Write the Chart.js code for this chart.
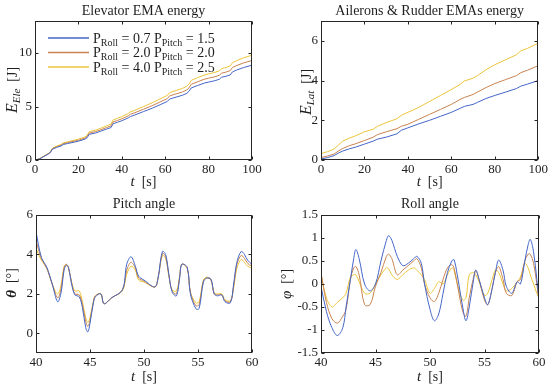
<!DOCTYPE html>
<html><head><meta charset="utf-8">
<script src="https://cdn.jsdelivr.net/npm/chart.js@4.4.0/dist/chart.umd.min.js"></script>
<style>
html,body{margin:0;padding:0;background:#fff;}
#wrap{position:relative;width:550px;height:387px;background:#fff;}
#wrap canvas{position:absolute;left:0;top:0;}
</style></head><body>
<div id="wrap">
<canvas id="c1" width="550" height="387"></canvas>
<canvas id="c2" width="550" height="387"></canvas>
<canvas id="c3" width="550" height="387"></canvas>
<canvas id="c4" width="550" height="387"></canvas>
</div>
<script>
// ---------- DATA ----------
const seriesNames = ['P_Roll = 0.7 P_Pitch = 1.5', 'P_Roll = 2.0 P_Pitch = 2.0', 'P_Roll = 4.0 P_Pitch = 2.5'];
const rollGains = ['0.7', '2.0', '4.0'];
const pitchGains = ['1.5', '2.0', '2.5'];

// Elevator EMA energy [J] vs t [s]
const eleTime = [0,2,4,6,7,8,10,12,13,15,18,20,23,24,25,28,30,33,35,36,38,40,43,44,46,50,54,58,61,62,65,68,70,71,72,75,78,80,83,85,86,88,90,91,93,96,100];
const eleA = [0,0.09,0.32,0.54,0.68,1.0,1.18,1.31,1.45,1.54,1.67,1.76,1.95,2.08,2.4,2.53,2.67,2.9,3.03,3.39,3.53,3.67,3.94,4.07,4.21,4.53,4.84,5.2,5.48,5.7,5.88,6.06,6.24,6.43,6.74,6.97,7.19,7.29,7.42,7.56,7.74,7.83,7.96,8.24,8.42,8.64,8.87];
const eleB = [0,0.1,0.33,0.57,0.71,1.05,1.24,1.38,1.52,1.62,1.76,1.85,2.04,2.19,2.52,2.66,2.8,3.04,3.18,3.56,3.7,3.85,4.13,4.28,4.42,4.75,5.08,5.46,5.75,5.99,6.18,6.37,6.56,6.75,7.08,7.32,7.55,7.65,7.79,7.93,8.12,8.22,8.36,8.65,8.84,9.07,9.31];
const eleC = [0,0.1,0.35,0.6,0.75,1.1,1.3,1.45,1.6,1.7,1.85,1.95,2.15,2.3,2.65,2.8,2.95,3.2,3.35,3.75,3.9,4.05,4.35,4.5,4.65,5.0,5.35,5.75,6.05,6.3,6.5,6.7,6.9,7.1,7.45,7.7,7.95,8.05,8.2,8.35,8.55,8.65,8.8,9.1,9.3,9.55,9.8];

// Ailerons & Rudder EMAs energy [J] vs t [s]
const latTime = [0,3,6,8,10,13,16,20,24,26,30,35,37,40,45,50,55,60,64,66,70,72,76,80,85,90,92,95,100];
const latA = [0.05,0.12,0.22,0.35,0.45,0.56,0.65,0.8,0.95,1.05,1.15,1.32,1.5,1.62,1.82,2.0,2.2,2.4,2.6,2.7,2.8,2.9,3.1,3.25,3.42,3.6,3.72,3.82,4.0];
const latB = [0.12,0.2,0.3,0.45,0.58,0.72,0.82,0.98,1.15,1.28,1.42,1.58,1.7,1.8,2.05,2.3,2.55,2.8,3.05,3.15,3.3,3.42,3.65,3.85,4.05,4.25,4.4,4.52,4.75];
const latC = [0.32,0.42,0.55,0.75,0.95,1.1,1.22,1.42,1.55,1.7,1.88,2.08,2.25,2.4,2.65,2.95,3.25,3.55,3.8,3.98,4.12,4.25,4.55,4.8,5.05,5.3,5.5,5.62,5.88];

// Pitch angle [deg] vs t [s]
const pitchTime = [40,40.5,41,41.5,42,42.3,42.6,42.8,43,43.3,43.6,44,44.3,44.6,44.8,45,45.3,45.5,46,46.3,47,48,48.4,48.8,49.2,49.5,50,51,51.3,51.7,52,52.3,52.6,53,53.3,53.5,54,54.3,54.8,55.1,55.5,55.8,56.2,56.5,56.8,57.2,57.5,58,58.3,58.6,59,59.3,59.6,60];
const pitchA = [5.15,3.85,3.35,2.5,1.6,2.0,3.2,3.45,3.35,2.5,1.95,1.85,1.3,0.3,0.07,0.5,1.5,1.85,2.0,1.5,1.8,2.2,3.5,3.88,3.4,2.9,2.7,2.35,2.8,4.15,4.0,3.0,2.1,1.9,2.8,3.5,3.35,2.0,1.25,1.25,2.6,2.8,2.75,2.0,1.9,1.95,1.6,1.55,2.5,3.6,4.15,4.0,3.7,3.5];
const pitchB = [4.7,3.8,3.3,2.5,1.8,2.2,3.3,3.5,3.35,2.55,2.0,1.95,1.45,0.6,0.35,0.65,1.55,1.9,2.0,1.5,1.8,2.2,3.2,3.6,3.3,2.8,2.65,2.35,2.8,4.05,3.9,2.95,2.15,2.0,2.85,3.5,3.3,2.05,1.4,1.45,2.65,2.8,2.7,2.0,1.95,1.95,1.65,1.6,2.4,3.5,3.95,3.8,3.55,3.4];
const pitchC = [4.3,3.7,3.3,2.5,2.0,2.4,3.4,3.5,3.3,2.6,2.15,2.15,1.6,0.8,0.55,0.8,1.6,1.9,2.0,1.5,1.8,2.15,3.0,3.4,3.2,2.7,2.6,2.35,2.8,3.95,3.8,2.9,2.2,2.15,2.9,3.5,3.3,2.1,1.55,1.6,2.7,2.85,2.7,2.05,2.0,2.0,1.7,1.65,2.3,3.3,3.75,3.6,3.4,3.3];

// Roll angle [deg] vs t [s]
const rollTime = [40,40.5,41,41.5,42,42.3,42.7,43,43.2,43.5,44,44.5,45,45.5,46,46.2,46.5,47,47.5,48,48.5,48.8,49.2,49.5,50,50.4,50.8,51.2,51.6,52,52.2,52.5,53,53.3,53.6,54,54.2,54.5,55,55.3,55.7,56,56.3,56.7,57,57.5,58,58.3,58.7,59,59.2,59.5,59.8,60];
const rollA = [-0.05,-0.6,-0.95,-1.12,-0.95,-0.5,0.1,0.55,0.75,0.55,0.0,-0.15,0.0,0.5,0.95,1.05,0.95,0.6,0.4,0.45,0.55,0.6,0.45,0.0,-0.55,-0.8,-0.65,-0.2,0.25,0.5,0.53,0.2,-0.5,-0.8,-0.5,0.1,0.3,0.1,-0.3,-0.45,-0.1,0.25,0.52,0.3,-0.05,-0.2,0.05,0.0,0.5,0.85,0.97,0.7,0.1,-0.35];
const rollB = [0.25,-0.4,-0.75,-0.85,-0.7,-0.55,0.1,0.35,0.38,0.2,-0.45,-0.45,-0.05,0.25,0.6,0.65,0.55,0.2,0.3,0.4,0.5,0.55,0.35,0.0,-0.3,-0.38,-0.2,0.1,0.35,0.42,0.35,0.0,-0.6,-0.7,-0.3,0.15,0.3,0.1,-0.35,-0.45,-0.1,0.25,0.38,0.1,-0.2,-0.25,0.05,0.1,0.5,0.65,0.65,0.45,0.0,-0.4];
const rollC = [0.2,-0.3,-0.5,-0.4,-0.3,-0.2,0.15,0.2,0.2,0.05,-0.2,-0.2,0.0,0.2,0.35,0.33,0.2,0.1,0.2,0.3,0.35,0.3,0.2,0.1,-0.2,-0.1,0.05,0.0,0.2,0.35,0.3,0.0,-0.35,-0.3,0.2,0.25,0.2,0.05,-0.25,-0.2,0.1,0.3,0.25,0.0,-0.15,-0.1,0.05,0.15,0.45,0.35,0.2,0.0,-0.2,-0.3];

// ---------- STYLE ----------
const lineColors = ['#4466C8', '#C8834F', '#EBC53A'];
const SERIF = '"Liberation Serif", "Times New Roman", serif';
const TXT = '#1f1f1f';

function pts(t, v) { return t.map((x, i) => ({x: x, y: v[i]})); }

function drawRich(ctx, parts, x, y, align) {
  let w = 0;
  parts.forEach(p => { ctx.font = p[1]; w += ctx.measureText(p[0]).width; });
  let cx = align === 'center' ? x - w / 2 : x;
  ctx.textAlign = 'left'; ctx.textBaseline = 'alphabetic';
  parts.forEach(p => { ctx.font = p[1]; ctx.fillText(p[0], cx, y + (p[2] || 0)); cx += ctx.measureText(p[0]).width; });
}

const framePlugin = {
  id: 'frame',
  afterDraw(chart) {
    const o = chart.options.plugins.frame;
    const ctx = chart.ctx, a = chart.chartArea;
    const xs = chart.scales.x, ys = chart.scales.y;
    ctx.save();
    ctx.strokeStyle = '#262626'; ctx.lineWidth = 1;
    const l = Math.round(a.left) + 0.5, r = Math.round(a.right) - 0.5;
    const t = Math.round(a.top) + 0.5, b = Math.round(a.bottom) - 0.5;
    ctx.strokeRect(l, t, r - l, b - t);
    ctx.beginPath();
    xs.ticks.forEach(tk => {
      const px = Math.round(xs.getPixelForValue(tk.value)) + 0.5;
      ctx.moveTo(px, b); ctx.lineTo(px, b - 3);
      ctx.moveTo(px, t); ctx.lineTo(px, t + 3);
    });
    ys.ticks.forEach(tk => {
      const py = Math.round(ys.getPixelForValue(tk.value)) + 0.5;
      ctx.moveTo(l, py); ctx.lineTo(l + 3, py);
      ctx.moveTo(r, py); ctx.lineTo(r - 3, py);
    });
    ctx.stroke();
    ctx.fillStyle = TXT;
    const cxm = (a.left + a.right) / 2;
    // title
    drawRich(ctx, [[o.title, '14px ' + SERIF]], cxm, o.titleY, 'center');
    // x label
    drawRich(ctx, [['t', 'italic 15px ' + SERIF], ['  [s]', '14px ' + SERIF]], cxm, o.xLabelY, 'center');
    // y label
    ctx.save();
    ctx.translate(o.yLabelX, o.yLabelY);
    ctx.rotate(-Math.PI / 2);
    drawRich(ctx, o.yLabel, 0, 0, 'center');
    ctx.restore();
    // legend
    if (o.legend) {
      chart.data.datasets.forEach((ds, i) => {
        const yy = o.legend.y + i * o.legend.dy;
        ctx.strokeStyle = ds.borderColor; ctx.lineWidth = 1.5;
        ctx.beginPath(); ctx.moveTo(o.legend.x, yy); ctx.lineTo(o.legend.x + 41, yy); ctx.stroke();
        ctx.fillStyle = TXT;
        drawRich(ctx, [
          ['P', '14px ' + SERIF], ['Roll', '10px ' + SERIF, 3],
          [' = ' + rollGains[i] + ' P', '14px ' + SERIF], ['Pitch', '10px ' + SERIF, 3],
          [' = ' + pitchGains[i], '14px ' + SERIF]
        ], o.legend.x + 45, yy + 4.5, 'left');
      });
    }
    ctx.restore();
  }
};

function makeChart(id, time, arrs, box, xr, xstep, yr, ystep, smooth, frame) {
  const yW = 30, xH = 30;
  const tickFont = {family: SERIF, size: 13};
  return new Chart(document.getElementById(id), {
    type: 'line',
    data: {
      datasets: arrs.map((v, i) => ({
        label: seriesNames[i],
        data: pts(time, v),
        borderColor: lineColors[i],
        borderWidth: 1,
        pointRadius: 0,
        tension: smooth ? 0.35 : 0,
        fill: false
      }))
    },
    options: {
      responsive: false,
      animation: false,
      events: [],
      layout: {padding: {left: box.L - yW, right: 550 - box.R, top: box.T, bottom: 387 - box.B - xH}},
      plugins: {legend: {display: false}, tooltip: {enabled: false}, title: {display: false}, frame: frame},
      scales: {
        x: {
          type: 'linear', min: xr[0], max: xr[1],
          grid: {display: false, drawTicks: false}, border: {display: false},
          ticks: {stepSize: xstep, font: tickFont, color: TXT, padding: 2, maxRotation: 0, includeBounds: false, callback: v => String(v)},
          afterFit: s => { s.height = xH; }
        },
        y: {
          type: 'linear', min: yr[0], max: yr[1],
          grid: {display: false, drawTicks: false}, border: {display: false},
          ticks: {stepSize: ystep, font: tickFont, color: TXT, padding: 3, includeBounds: false, callback: v => String(v)},
          afterFit: s => { s.width = yW; }
        }
      }
    },
    plugins: [framePlugin]
  });
}

makeChart('c1', eleTime, [eleA, eleB, eleC], {L: 35, R: 252, T: 21, B: 160}, [0, 100], 20, [0, 13], 5, false, {
  title: 'Elevator EMA energy', titleY: 15, xLabelY: 186, yLabelX: 17, yLabelY: 90,
  yLabel: [['E', 'italic 16px ' + SERIF], ['Ele', 'italic 11px ' + SERIF, 3], ['  [J]', '14px ' + SERIF]],
  legend: {x: 48, y: 38, dy: 14.5}
});
makeChart('c2', latTime, [latA, latB, latC], {L: 321, R: 539, T: 21, B: 160}, [0, 100], 20, [0, 7], 2, false, {
  title: 'Ailerons & Rudder EMAs energy', titleY: 15, xLabelY: 186, yLabelX: 311, yLabelY: 92,
  yLabel: [['E', 'italic 16px ' + SERIF], ['Lat', 'italic 11px ' + SERIF, 3], ['  [J]', '14px ' + SERIF]]
});
makeChart('c3', pitchTime, [pitchA, pitchB, pitchC], {L: 36, R: 252, T: 215, B: 353}, [40, 60], 5, [-1, 6], 2, true, {
  title: 'Pitch angle', titleY: 208, xLabelY: 381, yLabelX: 16, yLabelY: 283,
  yLabel: [['θ', 'italic bold 15px ' + SERIF], ['  [°]', '14px ' + SERIF]]
});
makeChart('c4', rollTime, [rollA, rollB, rollC], {L: 321, R: 539, T: 215, B: 353}, [40, 60], 5, [-1.5, 1.5], 0.5, true, {
  title: 'Roll angle', titleY: 208, xLabelY: 381, yLabelX: 291, yLabelY: 284,
  yLabel: [['φ', 'italic 15px ' + SERIF], ['  [°]', '14px ' + SERIF]]
});
</script>
</body></html>
